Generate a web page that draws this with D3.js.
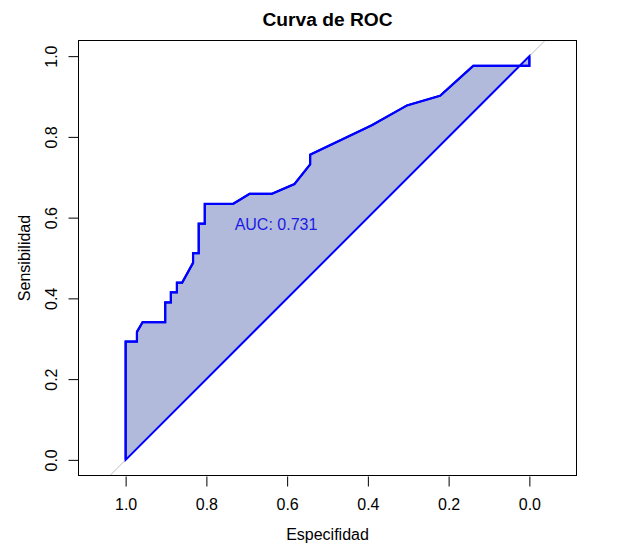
<!DOCTYPE html>
<html>
<head>
<meta charset="utf-8">
<script src="https://cdn.jsdelivr.net/npm/d3@7"></script>
<style>
  html, body { margin: 0; padding: 0; background: #fff; }
  svg { display: block; font-family: "Liberation Sans", Arial, Helvetica, sans-serif; }
</style>
</head>
<body>
<svg id="chart" width="617" height="555"></svg>
<script>
// ---- data ----
const specificities = [1.000, 1.000, 0.972, 0.972, 0.958, 0.902, 0.902, 0.888, 0.888, 0.873, 0.873, 0.860, 0.833, 0.833, 0.819, 0.819, 0.804, 0.804, 0.734, 0.693, 0.638, 0.582, 0.543, 0.543, 0.390, 0.303, 0.221, 0.139, 0.000, 0.000];
const sensitivities = [0.000, 0.293, 0.293, 0.317, 0.341, 0.341, 0.390, 0.390, 0.415, 0.415, 0.439, 0.439, 0.488, 0.512, 0.512, 0.585, 0.585, 0.634, 0.634, 0.659, 0.659, 0.683, 0.732, 0.756, 0.829, 0.878, 0.902, 0.976, 0.976, 1.000];
const tickValues = [1.0, 0.8, 0.6, 0.4, 0.2, 0.0];
const aucValue = 0.731;
const titleText = "Curva de ROC";
const xLabel = "Especifidad";
const yLabel = "Sensibilidad";

const points = specificities.map((s, i) => ({ spec: s, sens: sensitivities[i] }));

// ---- layout ----
const box = { left: 78, right: 577, top: 40, bottom: 476 };
const svg = d3.select("#chart");

const x = d3.scaleLinear().domain([1.118, -0.118]).range([box.left, box.right]);
const y = d3.scaleLinear().domain([-0.04, 1.04]).range([box.bottom, box.top]);

svg.append("defs").append("clipPath").attr("id", "plotclip")
  .append("rect")
  .attr("x", box.left).attr("y", box.top)
  .attr("width", box.right - box.left).attr("height", box.bottom - box.top);

const plot = svg.append("g").attr("clip-path", "url(#plotclip)");

// reference diagonal (grey, spans plot)
plot.append("line")
  .attr("x1", x(1.2)).attr("y1", y(-0.2))
  .attr("x2", x(-0.2)).attr("y2", y(1.2))
  .attr("stroke", "#bebebe").attr("stroke-width", 1);

// AUC polygon (curve closed back to start)
const line = d3.line().x(d => x(d.spec)).y(d => y(d.sens));
plot.append("path")
  .attr("d", line(points) + "Z")
  .attr("fill", "#b2badb")
  .attr("stroke", "#0000ff")
  .attr("stroke-width", 2)
  .attr("stroke-linejoin", "miter");

// ROC curve on top
plot.append("path")
  .attr("d", line(points))
  .attr("fill", "none")
  .attr("stroke", "#0000ff")
  .attr("stroke-width", 2.2);

// AUC text
svg.append("text")
  .attr("x", x(0.73)).attr("y", y(0.582))
  .attr("dy", "0.35em")
  .attr("fill", "#1a1ae6")
  .attr("font-size", 16)
  .text("AUC: " + aucValue.toFixed(3));

// box
svg.append("rect")
  .attr("x", box.left + 0.5).attr("y", box.top + 0.5)
  .attr("width", box.right - box.left - 1).attr("height", box.bottom - box.top - 1)
  .attr("fill", "none").attr("stroke", "#000").attr("stroke-width", 1);

// x axis
const xAxis = d3.axisBottom(x).tickValues(tickValues).tickFormat(d3.format(".1f"))
  .tickSize(10).tickPadding(12);
const gx = svg.append("g").attr("transform", `translate(0,${box.bottom + 0.5})`).call(xAxis);
gx.select(".domain").remove();
gx.selectAll("text").attr("font-size", 16).attr("font-family", null).attr("fill", "#000");
gx.selectAll("line").attr("stroke", "#000");

// y axis
const yAxis = d3.axisLeft(y).tickValues(tickValues).tickFormat(d3.format(".1f"))
  .tickSize(10).tickPadding(0);
const gy = svg.append("g").attr("transform", `translate(${box.left + 0.5},0)`).call(yAxis);
gy.select(".domain").remove();
gy.selectAll("line").attr("stroke", "#000");
gy.selectAll("text").remove();
gy.selectAll(".tick").append("text")
  .attr("transform", "translate(-22,0) rotate(-90)")
  .attr("text-anchor", "middle")
  .attr("font-size", 16)
  .attr("fill", "#000")
  .text(d => d3.format(".1f")(d));

// axis labels
svg.append("text")
  .attr("x", (box.left + box.right) / 2).attr("y", 540)
  .attr("text-anchor", "middle").attr("font-size", 16).attr("fill", "#000")
  .text(xLabel);
svg.append("text")
  .attr("transform", `translate(30,${(box.top + box.bottom) / 2}) rotate(-90)`)
  .attr("text-anchor", "middle").attr("font-size", 16).attr("fill", "#000")
  .text(yLabel);

// title
svg.append("text")
  .attr("x", (box.left + box.right) / 2).attr("y", 26)
  .attr("text-anchor", "middle").attr("font-size", 19.2).attr("font-weight", "bold").attr("fill", "#000")
  .text(titleText);
</script>
</body>
</html>
